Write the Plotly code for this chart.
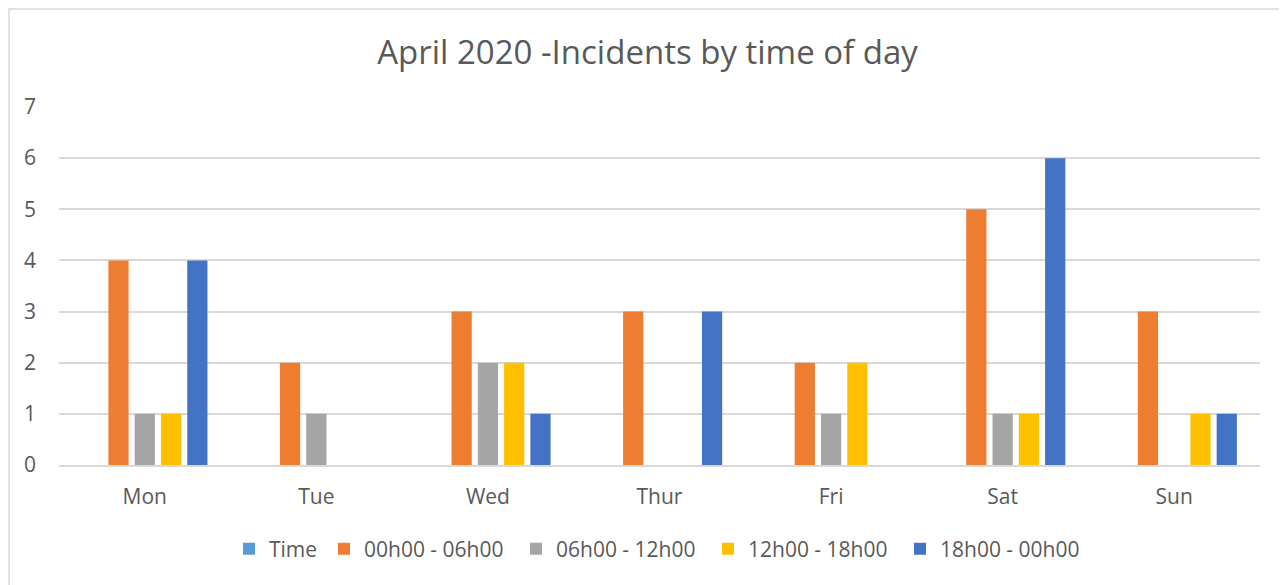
import plotly.graph_objects as go

days = ["Mon", "Tue", "Wed", "Thur", "Fri", "Sat", "Sun"]
series_names = ["Time", "00h00 - 06h00", "06h00 - 12h00", "12h00 - 18h00", "18h00 - 00h00"]
time_vals = [0, 0, 0, 0, 0, 0, 0]
s_00_06 = [4, 2, 3, 3, 2, 5, 3]
s_06_12 = [1, 1, 2, 0, 1, 1, 0]
s_12_18 = [1, 0, 2, 0, 2, 1, 1]
s_18_00 = [4, 0, 1, 3, 0, 6, 1]
colors = ["#5B9BD5", "#ED7D31", "#A5A5A5", "#FFC000", "#4472C4"]

# page body has an 8px default margin; compensate so on-screen positions match
OFF = 8
W, H = 1287 - OFF, 585 - OFF
PL, PR, PT, PB = 59, 1260, 107, 465  # on-screen plot area edges
L, R, T, B = PL - OFF, OFF + W - PR, PT - OFF, OFF + H - PB
pw, ph = PR - PL, PB - PT

fig = go.Figure()
for i, (name, vals, c) in enumerate(zip(series_names, [time_vals, s_00_06, s_06_12, s_12_18, s_18_00], colors)):
    fig.add_trace(go.Bar(x=days, y=vals, name=name, marker=dict(color=c, line=dict(width=0)),
                         legend="legend" if i == 0 else "legend2"))

def px_x(p):
    return (p - PL) / pw

def px_y(p):
    return (PB - p) / ph

D = 14  # offset from legend box left to first marker
fig.update_layout(
    width=W, height=H,
    margin=dict(l=L, r=R, t=T, b=B),
    paper_bgcolor="white", plot_bgcolor="white",
    barmode="group", bargap=0.234, bargroupgap=0.23,
    font=dict(family="Open Sans", color="#595959", size=20),
    title=dict(text="April 2020 -Incidents by time of day", x=0.5, xanchor="center",
               y=1 - (52 - OFF) / H, yanchor="middle",
               font=dict(family="Open Sans", size=33, color="#595959")),
    xaxis=dict(showgrid=False, showline=True, linecolor="#D9D9D9", linewidth=1.5,
               ticks="", tickfont=dict(size=21), ticklabelstandoff=12),
    yaxis=dict(range=[0, 7], dtick=1, showgrid=True, gridcolor="#D9D9D9", gridwidth=1.5,
               zeroline=False, showline=False, ticks="", tickfont=dict(size=21),
               ticklabelstandoff=22),
    legend=dict(orientation="h", x=px_x(243 - D), xanchor="left", y=px_y(549), yanchor="middle",
                font=dict(size=21), itemclick=False),
    legend2=dict(orientation="h", x=px_x(338 - D), xanchor="left", y=px_y(549), yanchor="middle",
                 font=dict(size=21), itemclick=False, entrywidth=147, entrywidthmode="pixels"),
    showlegend=True,
    shapes=[dict(type="rect", xref="paper", yref="paper",
                 x0=px_x(OFF + 1), x1=px_x(1300), y0=px_y(600), y1=px_y(OFF + 1),
                 line=dict(color="#D9D9D9", width=1.5), fillcolor="rgba(0,0,0,0)", layer="below")],
)

fig.write_html("out.html")
